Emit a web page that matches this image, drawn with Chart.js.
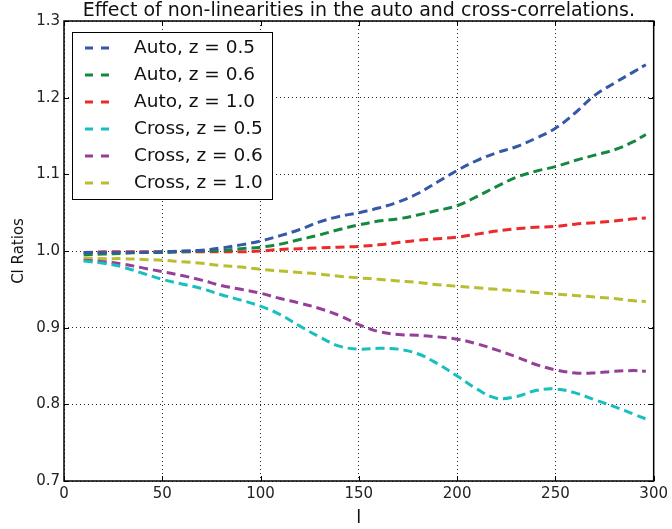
<!DOCTYPE html>
<html lang="en">
<head>
    <meta charset="UTF-8" />
    <style>
        body { margin: 0; background: #fff; }
        #wrap { width: 672px; height: 529px; }
    </style>
    <title>CI Ratios</title>
    <script src="https://cdn.jsdelivr.net/npm/chart.js"></script>
</head>
<body>
    <div id="wrap"><canvas id="chart" width="672" height="529"></canvas></div>

    <script>
        const ells = [10, 20, 30, 40, 50, 60, 70, 80, 90, 100, 110, 120, 130, 140, 150,
            160, 170, 180, 190, 200, 210, 220, 230, 240, 250, 260, 270, 280, 290, 296];

        const autoZ05 = [0.998, 0.998, 0.998, 0.998, 0.999, 1.000, 1.001, 1.004, 1.008, 1.013, 1.020, 1.028, 1.038, 1.045, 1.050,
            1.056, 1.064, 1.075, 1.090, 1.105, 1.118, 1.128, 1.136, 1.147, 1.160, 1.180, 1.203, 1.219, 1.234, 1.243];
        const autoZ06 = [0.995, 0.996, 0.997, 0.998, 0.998, 0.999, 1.000, 1.001, 1.003, 1.005, 1.009, 1.015, 1.021, 1.028, 1.034,
            1.039, 1.042, 1.047, 1.053, 1.059, 1.071, 1.084, 1.096, 1.104, 1.110, 1.118, 1.125, 1.132, 1.143, 1.152];
        const autoZ10 = [0.998, 0.999, 0.999, 0.999, 0.999, 0.999, 0.999, 0.999, 0.999, 1.000, 1.002, 1.003, 1.004, 1.005, 1.006,
            1.008, 1.011, 1.014, 1.016, 1.018, 1.022, 1.026, 1.029, 1.031, 1.032, 1.035, 1.037, 1.039, 1.042, 1.043];
        const crossZ05 = [0.987, 0.984, 0.979, 0.971, 0.963, 0.957, 0.951, 0.943, 0.936, 0.928, 0.917, 0.902, 0.888, 0.876, 0.872,
            0.873, 0.872, 0.866, 0.853, 0.837, 0.820, 0.808, 0.810, 0.818, 0.820, 0.815, 0.806, 0.797, 0.787, 0.781];
        const crossZ06 = [0.988, 0.986, 0.983, 0.978, 0.973, 0.968, 0.962, 0.955, 0.950, 0.945, 0.938, 0.932, 0.925, 0.916, 0.904,
            0.895, 0.891, 0.890, 0.888, 0.885, 0.879, 0.871, 0.862, 0.852, 0.845, 0.841, 0.841, 0.843, 0.844, 0.843];
        const crossZ10 = [0.991, 0.990, 0.990, 0.989, 0.988, 0.986, 0.984, 0.981, 0.979, 0.976, 0.974, 0.972, 0.970, 0.967, 0.965,
            0.963, 0.961, 0.959, 0.956, 0.954, 0.952, 0.950, 0.948, 0.946, 0.944, 0.942, 0.940, 0.938, 0.935, 0.934];

        const labels = ["Auto, z = 0.5", "Auto, z = 0.6", "Auto, z = 1.0",
            "Cross, z = 0.5", "Cross, z = 0.6", "Cross, z = 1.0"];
        const xTicks = [0, 50, 100, 150, 200, 250, 300];
        const yTicks = [0.7, 0.8, 0.9, 1.0, 1.1, 1.2, 1.3];
        const title = 'Effect of non-linearities in the auto and cross-correlations.';

        const palette = ["#3558a8", "#15883f", "#ec2a2b", "#17bfbf", "#963f99", "#bbbd30"];
        const series = [autoZ05, autoZ06, autoZ10, crossZ05, crossZ06, crossZ10];
        const FONT = "'DejaVu Sans', sans-serif";

        // matplotlib-style title, frame, inward ticks and a boxed legend
        const framePlugin = {
            id: 'frame',
            afterDraw(chart) {
                const { ctx, chartArea: a, scales } = chart;
                ctx.save();

                ctx.fillStyle = '#111';
                ctx.font = "19px " + FONT;
                ctx.textAlign = 'center';
                ctx.textBaseline = 'middle';
                ctx.fillText(title, (a.left + a.right) / 2, 11);
                ctx.textAlign = 'left';

                ctx.strokeStyle = '#000';
                ctx.lineWidth = 1;
                ctx.setLineDash([]);
                ctx.beginPath();
                xTicks.forEach(v => {
                    const x = Math.round(scales.x.getPixelForValue(v)) + 0.5;
                    ctx.moveTo(x, a.bottom); ctx.lineTo(x, a.bottom - 5);
                    ctx.moveTo(x, a.top); ctx.lineTo(x, a.top + 5);
                });
                yTicks.forEach(v => {
                    const y = Math.round(scales.y.getPixelForValue(v)) + 0.5;
                    ctx.moveTo(a.left, y); ctx.lineTo(a.left + 5, y);
                    ctx.moveTo(a.right, y); ctx.lineTo(a.right - 5, y);
                });
                ctx.stroke();
                ctx.lineWidth = 1.5;
                ctx.strokeRect(a.left, a.top, a.right - a.left, a.bottom - a.top);

                // legend
                const lx = 72.5, ly = 32.5, lw = 200, lh = 167;
                ctx.fillStyle = '#fff';
                ctx.fillRect(lx, ly, lw, lh);
                ctx.lineWidth = 1;
                ctx.strokeRect(lx, ly, lw, lh);
                ctx.font = "18.5px " + FONT;
                chart.data.datasets.forEach((ds, i) => {
                    const y = 48 + i * 27;
                    ctx.strokeStyle = ds.borderColor;
                    ctx.lineWidth = 3;
                    ctx.setLineDash([8, 8]);
                    ctx.beginPath();
                    ctx.moveTo(85, y); ctx.lineTo(110, y);
                    ctx.stroke();
                    ctx.fillStyle = '#111';
                    ctx.fillText(ds.label, 134, y);
                });
                ctx.restore();
            }
        };

        const config = {
            type: 'line',
            data: {
                datasets: series.map((values, idx) => ({
                    label: labels[idx],
                    data: values.map((v, i) => ({ x: ells[i], y: v })),
                    borderColor: palette[idx],
                    borderWidth: 3,
                    borderDash: [9, 5],
                    pointRadius: 0,
                    fill: false,
                    tension: 0.4
                }))
            },
            options: {
                responsive: false,
                animation: false,
                layout: { padding: { left: 0, right: 16, top: 21, bottom: 0 } },
                plugins: {
                    legend: { display: false },
                    tooltip: { enabled: false },
                    title: { display: false }
                },
                scales: {
                    x: {
                        type: 'linear',
                        min: 0, max: 300,
                        afterBuildTicks: s => { s.ticks = xTicks.map(v => ({ value: v })); },
                        afterFit: s => { s.height = 48; },
                        grid: { color: 'rgba(0,0,0,0.85)', drawTicks: false, lineWidth: 1 },
                        border: { display: false, dash: [1, 3] },
                        ticks: { color: '#222', font: { family: FONT, size: 15 }, padding: 4, maxRotation: 0 },
                        title: { display: true, text: 'l', color: '#111', font: { family: FONT, size: 18 }, padding: { top: 1, bottom: 0 } }
                    },
                    y: {
                        min: 0.7, max: 1.3,
                        afterBuildTicks: s => { s.ticks = yTicks.map(v => ({ value: v })); },
                        afterFit: s => { s.width = 64; },
                        grid: { color: 'rgba(0,0,0,0.85)', drawTicks: false, lineWidth: 1 },
                        border: { display: false, dash: [1, 3] },
                        ticks: { color: '#222', font: { family: FONT, size: 15 }, padding: 4, callback: v => v.toFixed(1) },
                        title: { display: true, text: 'Cl Ratios', color: '#111', font: { family: FONT, size: 15 }, padding: { top: 10, bottom: 0 } }
                    }
                }
            },
            plugins: [framePlugin]
        };

        new Chart(document.getElementById('chart'), config);
    </script>
</body>
</html>
